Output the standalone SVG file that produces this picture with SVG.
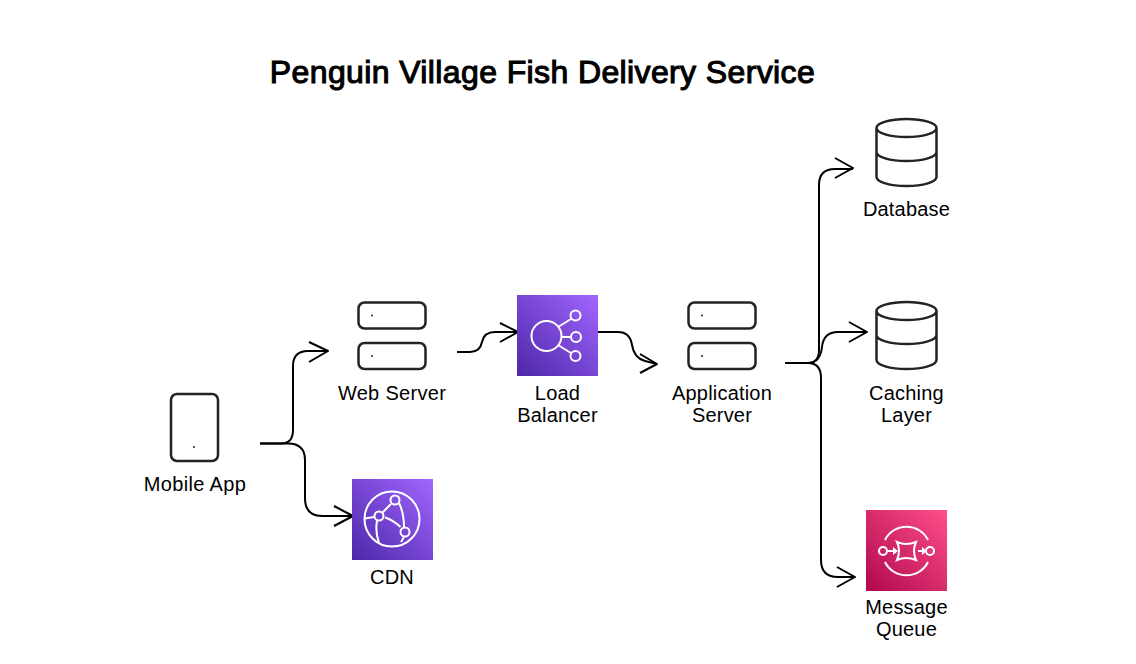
<svg xmlns="http://www.w3.org/2000/svg" width="1136" height="664" viewBox="0 0 1136 664">
<style>
text{font-family:"Liberation Sans",Arial,sans-serif;font-size:20px;fill:#000;text-anchor:middle;letter-spacing:.2px}
.title{font-size:32px;stroke:#000;stroke-width:1.1px;letter-spacing:.38px}
.s{fill:#fff;stroke:#232323;stroke-width:2.5}
.d{fill:#232323}
.c{fill:none;stroke:#000;stroke-width:2;stroke-linejoin:round}
.i{fill:none;stroke:#fff;stroke-width:2}
.a{fill:#fff}
</style>
<defs>
<linearGradient id="p" x1="0" y1="1" x2="1" y2="0"><stop offset="0" stop-color="#4D27A8"/><stop offset="1" stop-color="#A166FF"/></linearGradient>
<linearGradient id="k" x1="0" y1="1" x2="1" y2="0"><stop offset="0" stop-color="#B0084D"/><stop offset="1" stop-color="#FF4F8B"/></linearGradient>
</defs>
<rect width="1136" height="664" fill="#fff"/>
<text class="title" x="542.500" y="83">Penguin Village Fish Delivery Service</text>
<g id="connectors">
<path class="c" d="M260 443.500H281Q293 443.500 293 430V366Q293 351 308 351H328M309 342L328 351L309 362"/>
<path class="c" d="M260 443.500H288Q305 443.500 305 460V498Q305 516 322 516H353M334 506L353 516L334 526"/>
<path class="c" d="M457 352H470Q480 352 482 342Q484 332 495 332H518M500 323L518 332L500 342"/>
<path class="c" d="M598 332H618Q630 332 632 345Q634 358 645 361L657 364M640 354L657 364L640 373"/>
<path class="c" d="M785 363H808Q819 363 819 350V185Q819 169 835 169H853M835 158L853 168L835 178"/>
<path class="c" d="M785 363H808C818 363 821 356 822 347C823 337 828 332 838 332H867M849 322L867 332L849 342"/>
<path class="c" d="M785 363H808Q821 363 821 378V560Q821 577 838 577H855M837 567L855 577L837 587"/>
</g>
<g id="mobile-app">
<rect class="s" x="171" y="394" width="47" height="67" rx="6"/>
<circle class="d" cx="194" cy="447" r="1"/>
<text x="195" y="491" style="letter-spacing:.35px">Mobile App</text>
</g>
<g id="web-server">
<rect class="s" x="358.500" y="302.500" width="67" height="26" rx="6"/>
<rect class="s" x="358.500" y="343" width="67" height="26" rx="6"/>
<circle class="d" cx="372" cy="315.500" r="1"/>
<circle class="d" cx="372" cy="356" r="1"/>
<text x="392" y="400" style="letter-spacing:.3px">Web Server</text>
</g>
<g id="cdn">
<rect x="352" y="479" width="81" height="81" fill="url(#p)"/>
<circle class="i" cx="392" cy="519" r="27.500"/>
<circle class="i" cx="395" cy="500" r="4.500"/>
<circle class="i" cx="379" cy="516" r="4.500"/>
<circle class="i" cx="405" cy="532" r="4.500"/>
<path class="i" d="M382.500 512.500L391 504M385 517.500Q393 520 400.500 527M399 503Q404 513 404 527M374 517L365 518.500M377 521Q375 532 379 543M404 537L401 542"/>
<text x="392" y="584">CDN</text>
</g>
<g id="load-balancer">
<rect x="517" y="295" width="81" height="81" fill="url(#p)"/>
<circle class="i" cx="546.500" cy="336" r="15"/>
<circle class="i" cx="575.500" cy="315.500" r="5"/>
<circle class="i" cx="576" cy="337" r="5"/>
<circle class="i" cx="575.500" cy="356" r="5"/>
<path class="i" d="M558 327L571 319M561 337H571M558 345L571 353"/>
<text x="557.500" y="400">Load</text>
<text x="557.500" y="422">Balancer</text>
</g>
<g id="application-server">
<rect class="s" x="688.500" y="302.500" width="67" height="26" rx="6"/>
<rect class="s" x="688.500" y="343" width="67" height="26" rx="6"/>
<circle class="d" cx="702" cy="315.500" r="1"/>
<circle class="d" cx="702" cy="356" r="1"/>
<text x="722" y="400">Application</text>
<text x="722" y="422">Server</text>
</g>
<g id="database">
<path class="s" d="M876.500 128V177A30 9 0 0 0 936.500 177V128A30 9 0 0 0 876.500 128A30 9 0 0 0 936.500 128M876.500 152A30 9 0 0 0 936.500 152"/>
<text x="906.500" y="216">Database</text>
</g>
<g id="caching-layer">
<path class="s" d="M876.500 311V360A30 9 0 0 0 936.500 360V311A30 9 0 0 0 876.500 311A30 9 0 0 0 936.500 311M876.500 335A30 9 0 0 0 936.500 335"/>
<text x="906.500" y="400">Caching</text>
<text x="906.500" y="422">Layer</text>
</g>
<g id="message-queue">
<rect x="866" y="510" width="81" height="81" fill="url(#k)"/>
<circle class="i" cx="883" cy="551" r="4"/>
<circle class="i" cx="930" cy="551" r="4"/>
<path class="i" d="M885 540A24 24 0 0 1 928 540M885 562A24 24 0 0 0 928 562M888 551H894M918 551H923"/>
<path class="a" d="M893 547L898 551L893 555ZM922 547L927 551L922 555Z"/>
<path class="i" d="M897 542Q906 546 916 542Q912 551 916 560Q906 556 897 560Q901 551 897 542Z"/>
<text x="906.500" y="614">Message</text>
<text x="906.500" y="636">Queue</text>
</g>
</svg>
